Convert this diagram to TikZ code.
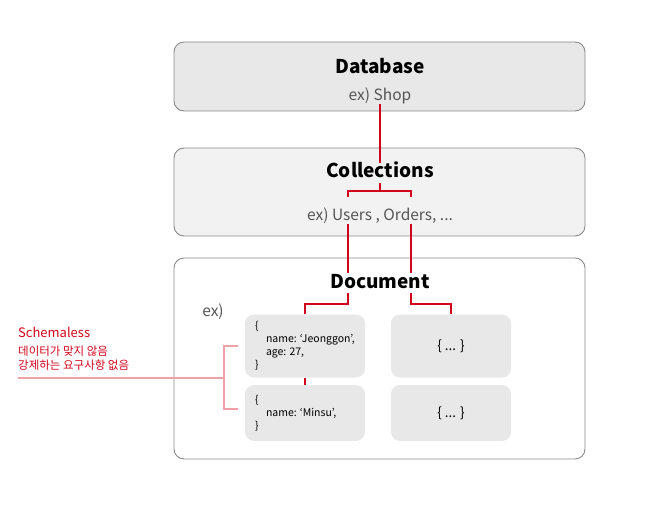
\documentclass[tikz,border=0pt]{standalone}
\usepackage{fontspec}
\setmainfont{Noto Sans CJK KR}
\usetikzlibrary{positioning}
\definecolor{linegray}{HTML}{8A8A8A}
\definecolor{textgray}{HTML}{555555}
\definecolor{fillgray}{HTML}{E8E8E8}
\definecolor{filllight}{HTML}{F2F2F2}
\definecolor{linkred}{HTML}{D2041C}
\definecolor{bracepink}{HTML}{F0A0A8}

\begin{document}
\begin{tikzpicture}[x=1pt, y=-1pt,
    layer/.style={draw=linegray, line width=0.9pt, rounded corners=10pt, minimum width=411pt, inner sep=0pt},
    docbox/.style={fill=fillgray, rounded corners=9pt, minimum width=120pt, inner sep=0pt},
    title/.style={font=\fontsize{19}{22}\selectfont\bfseries, text height=14pt, text depth=4pt, inner sep=1pt},
    sub/.style={text=textgray, font=\fontsize{15.5}{18}\selectfont, text height=12pt, text depth=2pt, inner sep=1pt},
    link/.style={draw=linkred, line width=2pt},
    brace/.style={draw=bracepink, line width=1.3pt}]
    \useasboundingbox (0,0) rectangle (672,505);

    % Layers
    \node[layer, fill=fillgray, minimum height=69pt] (db) at (379.5,76.5) {};
    \node[layer, fill=filllight, minimum height=88pt] (coll) at (379.5,192) {};
    \node[layer, fill=white, minimum height=201pt] (doc) at (379.5,358.5) {};

    % Titles
    \node[title] (dbtitle) at (380,69) {Database};
    \node[sub] (dbsub) at (380,96) {ex) Shop};
    \node[title] (colltitle) at (380,173) {Collections};
    \node[sub] (collsub) at (380,216) {ex) Users , Orders, ...};
    \node[title] (doctitle) at (380,283) {Document};
    \node[sub] (docsub) at (213,311) {ex)};

    % Documents
    \node[docbox, minimum height=63pt] (doc1) at (305,346) {\parbox{100pt}{\fontsize{10.5}{13}\selectfont
        \{\\\hspace*{11pt}name: `Jeonggon',\\\hspace*{11pt}age: 27,\\\}}};
    \node[docbox, minimum height=56pt] (doc2) at (305,413) {\parbox{100pt}{\fontsize{10.5}{13}\selectfont
        \{\\\hspace*{11pt}name: `Minsu',\\\}}};
    \node[docbox, minimum height=63pt, font=\fontsize{13.5}{16}\selectfont] (doc3) at (451,346) {\{ ... \}};
    \node[docbox, minimum height=56pt, font=\fontsize{13.5}{16}\selectfont] (doc4) at (451,413) {\{ ... \}};

    % Schemaless note
    \node[anchor=west, inner sep=0pt, text=linkred, font=\fontsize{13}{15}\selectfont] (schema) at (18,332) {Schemaless};
    \node[anchor=north west, inner sep=0pt, text=linkred, align=left, font=\fontsize{11.5}{14}\selectfont] (schemanote) at (18,346) {데이터가 맞지 않음\\강제하는 요구사항 없음};

    % Connections
    \coordinate (splitC) at (380,191);
    \coordinate (usersTop) at (348,197.5);
    \coordinate (ordersTop) at (411,197.5);
    \coordinate (braceTop) at (238,346);
    \coordinate (braceBot) at (238,409);
    \coordinate (braceMid) at (224,378);
    \draw[brace] (braceTop) -| (braceMid) |- (braceBot);
    \draw[brace] (braceMid) -- (schemanote.west |- braceMid);
    \draw[link] (colltitle.north) -- (dbsub.south);
    \draw[link] (colltitle.south) -- (splitC);
    \draw[link] (usersTop) |- (splitC) -| (ordersTop);
    \draw[link] (usersTop |- collsub.south) -- (usersTop |- doctitle.north);
    \draw[link] (ordersTop |- collsub.south) -- (ordersTop |- doctitle.north);
    \draw[link] (usersTop |- doctitle.south) -- ++(0,11) -| (doc1.north);
    \draw[link] (ordersTop |- doctitle.south) -- ++(0,11) -| (doc3.north);
    \draw[link] (doc1.south) -- (doc2.north);
\end{tikzpicture}
\end{document}
